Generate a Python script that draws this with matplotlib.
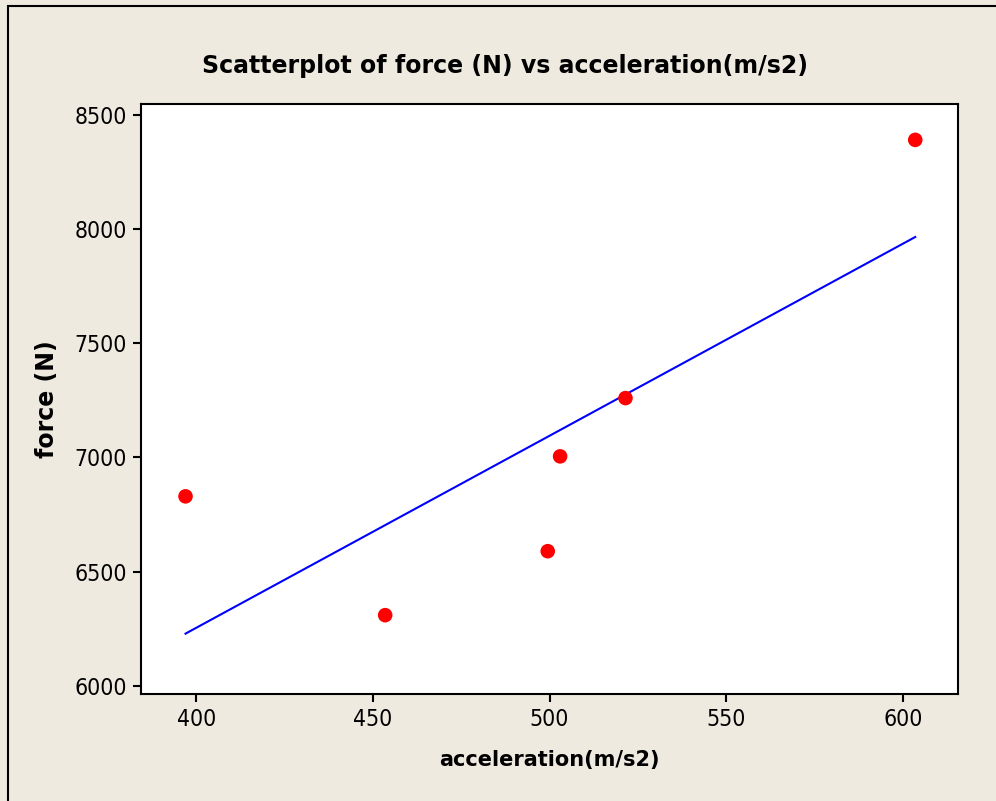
import matplotlib.pyplot as plt
import numpy as np
from matplotlib.patches import Rectangle

# values
acceleration = [397, 453.5, 499.5, 503, 521.5, 603.5]
force = [6830, 6310, 6590, 7005, 7260, 8390]
x_ticks = [400, 450, 500, 550, 600]
y_ticks = [6000, 6500, 7000, 7500, 8000, 8500]

bg = '#EEEAE0'

fig = plt.figure(figsize=(9.96, 8.01), dpi=100, facecolor=bg)
ax = fig.add_axes([141 / 996, 1 - 694 / 801, (958 - 141) / 996, (694 - 104) / 801])

# outer frame (only top and left edges show in the reference)
fig.patches.append(Rectangle((8 / 996, -0.1), 1.2, 1 - 6 / 801 + 0.1, transform=fig.transFigure,
                             fill=False, edgecolor='black', linewidth=1.5, zorder=0))

x = np.array(acceleration)
y = np.array(force)
slope, intercept = np.polyfit(x, y, 1)
xl = np.array([x.min(), x.max()])
ax.plot(xl, slope * xl + intercept, color='#0000FF', linewidth=1.5, zorder=2)

ax.scatter(x, y, s=110, color='#FF0000', edgecolors='none', zorder=3)

ax.set_xlim(384.4, 615.6)
ax.set_ylim(5965, 8547)
ax.set_xticks(x_ticks)
ax.set_yticks(y_ticks)
ax.tick_params(direction='out', length=6, width=1.5, colors='black', labelsize=16.5, pad=4)
for lab in ax.get_xticklabels() + ax.get_yticklabels():
    lab.set_fontstretch('condensed')
for s in ax.spines.values():
    s.set_linewidth(1.5)

ax.set_xlabel('acceleration(m/s2)', fontsize=15, fontweight='bold', labelpad=14)
ax.set_ylabel('force (N)', fontsize=17, fontweight='bold', labelpad=11)
fig.text(505 / 996, 1 - 66 / 801, 'Scatterplot of force (N) vs acceleration(m/s2)',
         ha='center', va='center', fontsize=17, fontweight='bold')

fig.savefig('out.png', dpi=100, facecolor=bg)
